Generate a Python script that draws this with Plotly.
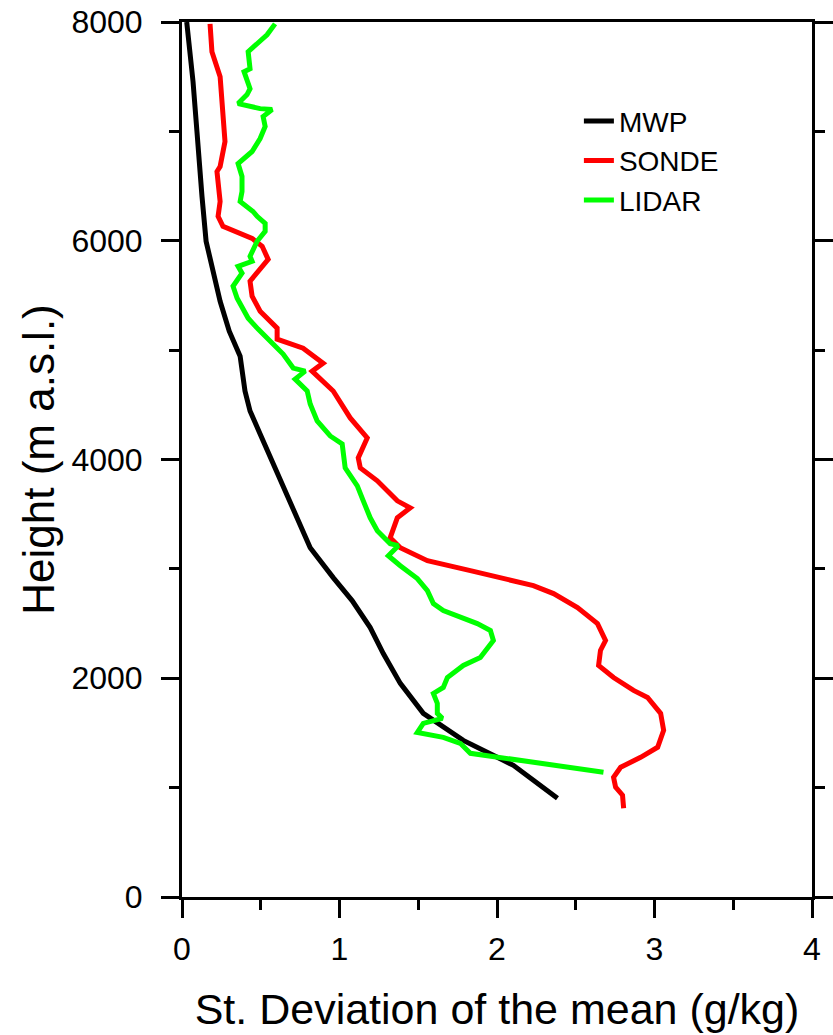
import plotly.graph_objects as go

# ---- data ----
mwp_sd = [0.03, 0.07, 0.095, 0.114, 0.127, 0.153, 0.197, 0.242, 0.30, 0.356, 0.369, 0.40,
          0.432, 0.496, 0.591, 0.687, 0.814, 0.96, 1.08, 1.195, 1.278, 1.386, 1.532,
          1.786, 2.104, 2.231, 2.384]
mwp_h = [8000, 7455, 6998, 6542, 6405, 5995, 5703, 5447, 5173, 4991, 4945, 4626,
         4443, 4234, 3923, 3622, 3193, 2920, 2710, 2463, 2226, 1953, 1679,
         1432, 1204, 1068, 903]

sonde_sd = [0.178, 0.19, 0.242, 0.26, 0.273, 0.242, 0.222, 0.242, 0.229, 0.26, 0.445, 0.509,
            0.547, 0.432, 0.445, 0.496, 0.604, 0.604, 0.769, 0.896, 0.826, 0.96, 1.068,
            1.176, 1.119, 1.132, 1.24, 1.367, 1.449, 1.367, 1.341, 1.322, 1.386, 1.558,
            1.831, 2.02, 2.231, 2.359, 2.511, 2.638, 2.689, 2.657, 2.645, 2.74, 2.867,
            2.956, 3.039, 3.058, 3.02, 2.912, 2.785, 2.74, 2.753, 2.797, 2.804]
sonde_h = [7983, 7728, 7500, 7181, 6907, 6679, 6633, 6359, 6223, 6131, 6022, 5949,
           5830, 5630, 5493, 5356, 5201, 5100, 5018, 4881, 4808, 4626, 4380,
           4197, 4015, 3923, 3805, 3622, 3558, 3467, 3349, 3285, 3193, 3075,
           2984, 2920, 2847, 2774, 2646, 2500, 2345, 2254, 2117, 2007, 1889,
           1825, 1679, 1524, 1369, 1277, 1186, 1095, 1004, 931, 812]

lidar_sd = [0.591, 0.54, 0.42, 0.432, 0.394, 0.42, 0.432, 0.413, 0.356, 0.496, 0.572, 0.515,
            0.528, 0.496, 0.445, 0.356, 0.381, 0.381, 0.369, 0.451, 0.477, 0.528, 0.528,
            0.477, 0.445, 0.432, 0.445, 0.356, 0.381, 0.324, 0.35, 0.381, 0.42, 0.483,
            0.54, 0.642, 0.706, 0.782, 0.718, 0.795, 0.814, 0.858, 0.941, 1.017, 1.036,
            1.113, 1.151, 1.195, 1.24, 1.322, 1.373, 1.31, 1.386, 1.494, 1.558, 1.596,
            1.659, 1.875, 1.958, 1.977, 1.894, 1.786, 1.685, 1.659, 1.596, 1.621, 1.621,
            1.653, 1.532, 1.494, 1.659, 1.767, 1.831, 2.022, 2.339, 2.676]
lidar_h = [7983, 7883, 7728, 7573, 7546, 7454, 7390, 7336, 7254, 7208, 7199, 7135,
           7044, 6934, 6816, 6706, 6588, 6451, 6359, 6268, 6223, 6159, 6086,
           5995, 5903, 5858, 5812, 5766, 5703, 5584, 5474, 5401, 5292, 5192,
           5109, 4964, 4836, 4808, 4735, 4626, 4507, 4352, 4215, 4142, 3923,
           3759, 3622, 3467, 3349, 3230, 3212, 3120, 3029, 2911, 2801, 2682,
           2619, 2500, 2436, 2345, 2190, 2117, 2007, 1916, 1861, 1770, 1679,
           1633, 1588, 1505, 1460, 1405, 1314, 1277, 1204, 1141]

x_ticks = [0, 1, 2, 3, 4]
y_ticks = [0, 2000, 4000, 6000, 8000]

FONT = "Arial, 'Liberation Sans', sans-serif"

fig = go.Figure()
fig.add_trace(go.Scatter(x=mwp_sd, y=mwp_h, mode="lines", name="MWP",
                         line=dict(color="#000000", width=5)))
fig.add_trace(go.Scatter(x=sonde_sd, y=sonde_h, mode="lines", name="SONDE",
                         line=dict(color="#FF0000", width=5)))
fig.add_trace(go.Scatter(x=lidar_sd, y=lidar_h, mode="lines", name="LIDAR",
                         line=dict(color="#00FF00", width=5)))

fig.update_layout(
    width=833, height=1035,
    margin=dict(l=182, r=21, t=22, b=138, autoexpand=False),
    paper_bgcolor="white", plot_bgcolor="white",
    font=dict(family=FONT, color="black"),
    showlegend=True,
    legend=dict(x=0.63, y=0.915, xanchor="left", yanchor="top",
                font=dict(size=28, family=FONT), bgcolor="rgba(0,0,0,0)",
                tracegroupgap=0, itemwidth=30),
)

fig.update_xaxes(
    range=[0, 4], tickvals=x_ticks, ticktext=[str(v) for v in x_ticks],
    showgrid=False, zeroline=False, automargin=False,
    showline=True, linecolor="black", linewidth=3, mirror=True,
    ticks="outside", ticklen=18, tickwidth=3, tickcolor="black",
    minor=dict(dtick=0.5, ticks="outside", ticklen=10, tickwidth=3, tickcolor="black"),
    tickfont=dict(size=32, family=FONT), ticklabelstandoff=4,
    title=dict(text="St. Deviation of the mean (g/kg)", font=dict(size=43, family=FONT),
               standoff=28),
)
fig.update_yaxes(
    range=[0, 8000], tickvals=y_ticks, ticktext=[str(v) for v in y_ticks],
    showgrid=False, zeroline=False, automargin=False,
    showline=True, linecolor="black", linewidth=3, mirror="ticks",
    ticks="outside", ticklen=18, tickwidth=3, tickcolor="black",
    minor=dict(dtick=1000, ticks="outside", ticklen=10, tickwidth=3, tickcolor="black"),
    tickfont=dict(size=32, family=FONT), ticklabelstandoff=12,
    title=dict(text="Height (m a.s.l.)", font=dict(size=44, family=FONT), standoff=4),
)

fig.write_html("out.html")
